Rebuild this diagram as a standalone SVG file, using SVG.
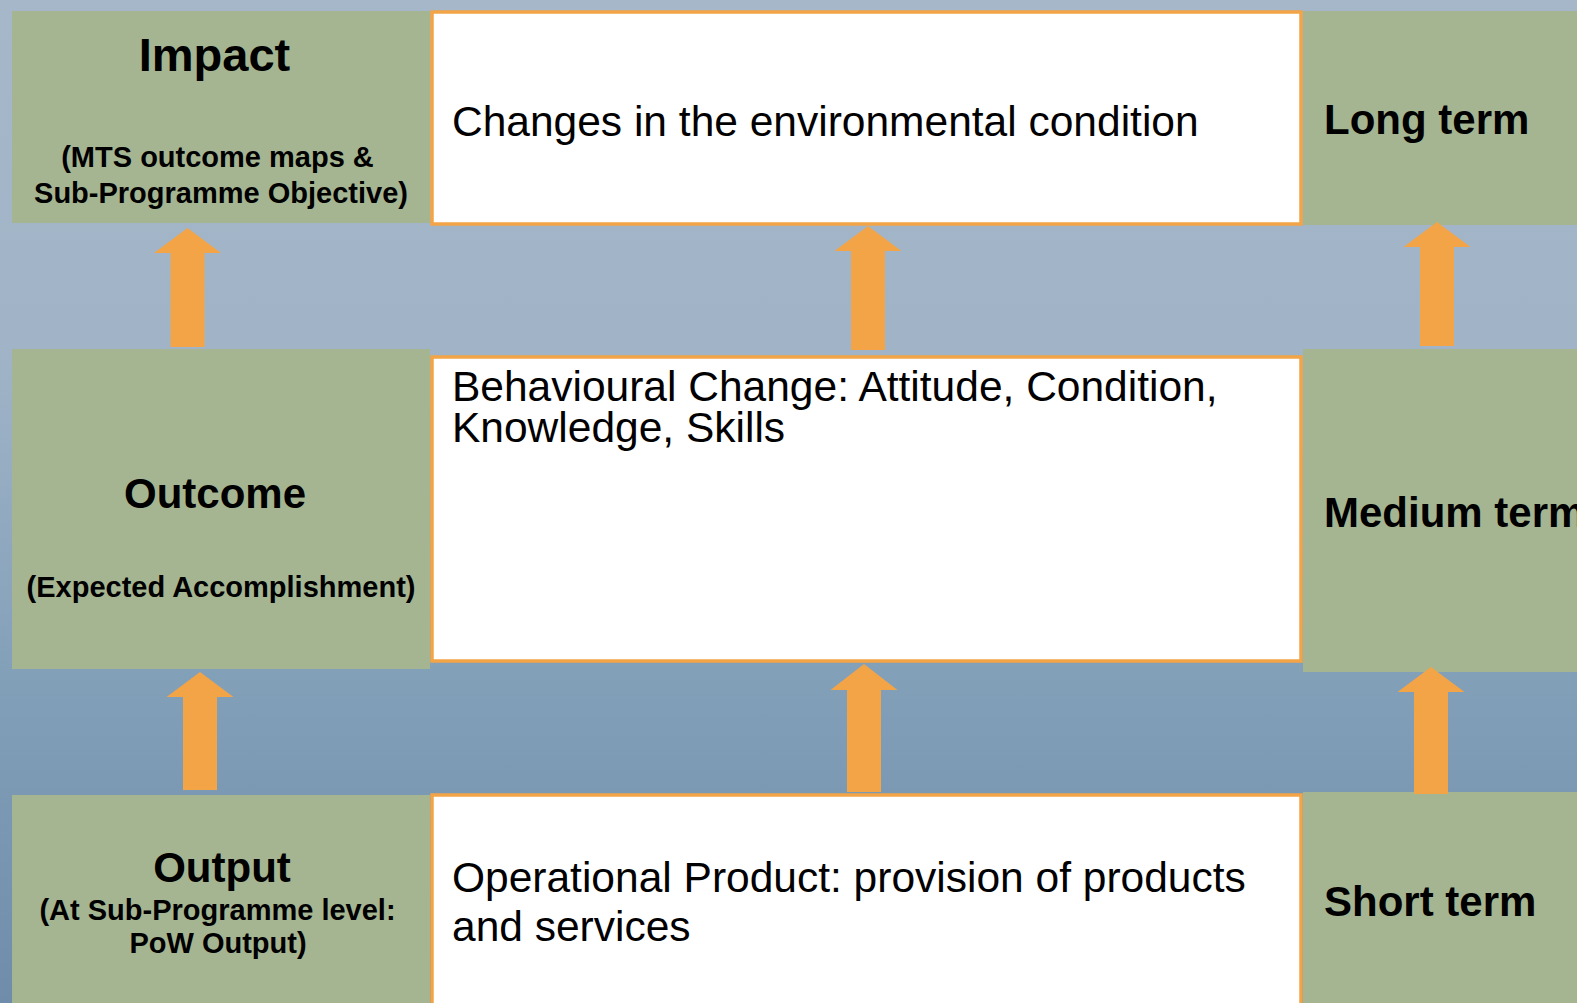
<svg xmlns="http://www.w3.org/2000/svg" width="1577" height="1003" viewBox="0 0 1577 1003">
  <defs>
    <linearGradient id="bg" x1="0" y1="0" x2="0" y2="1003" gradientUnits="userSpaceOnUse">
      <stop offset="0" stop-color="#a5b7c9"/>
      <stop offset="0.35" stop-color="#a1b4c7"/>
      <stop offset="0.67" stop-color="#83a0b9"/>
      <stop offset="1" stop-color="#6f8dab"/>
    </linearGradient>
    <style>
      .green { fill: #a5b592; }
      .white { fill: #ffffff; stroke: #f2a446; stroke-width: 3.5; }
      .arrow { fill: #f2a446; }
      .title { font-family: "Liberation Sans", Arial, sans-serif; font-weight: bold; fill: #000; text-anchor: middle; }
      .sub { font-family: "Liberation Sans", Arial, sans-serif; font-weight: bold; font-size: 29px; fill: #000; text-anchor: middle; }
      .term { font-family: "Liberation Sans", Arial, sans-serif; font-weight: bold; font-size: 42px; fill: #000; }
      .body { font-family: "Liberation Sans", Arial, sans-serif; font-size: 42.5px; fill: #000; }
    </style>
  </defs>
  <rect x="0" y="0" width="1577" height="1003" fill="url(#bg)"/>

  <g id="impact">
    <rect class="green" x="12" y="11" width="418" height="212"/>
    <text class="title" x="214.5" y="71" font-size="47">Impact</text>
    <text class="sub" x="217.5" y="167">(MTS outcome maps &amp;</text>
    <text class="sub" x="221" y="203">Sub-Programme Objective)</text>
  </g>
  <g id="impact-desc">
    <rect class="white" x="432" y="12" width="869" height="212"/>
    <text class="body" x="452" y="136">Changes in the environmental condition</text>
  </g>
  <g id="long-term">
    <rect class="green" x="1303" y="11" width="274" height="214"/>
    <text class="term" x="1324" y="134">Long term</text>
  </g>

  <g id="outcome">
    <rect class="green" x="12" y="349" width="418" height="320"/>
    <text class="title" x="215" y="508" font-size="42">Outcome</text>
    <text class="sub" x="221" y="597">(Expected Accomplishment)</text>
  </g>
  <g id="outcome-desc">
    <rect class="white" x="432" y="357" width="869" height="304"/>
    <text class="body" x="452" y="401">Behavioural Change: Attitude, Condition,</text>
    <text class="body" x="452" y="442">Knowledge, Skills</text>
  </g>
  <g id="medium-term">
    <rect class="green" x="1303" y="349" width="274" height="323"/>
    <text class="term" x="1324" y="527">Medium term</text>
  </g>

  <g id="output">
    <rect class="green" x="12" y="795" width="418" height="208"/>
    <text class="title" x="222" y="882" font-size="42">Output</text>
    <text class="sub" x="217.5" y="920">(At Sub-Programme level:</text>
    <text class="sub" x="218" y="953">PoW Output)</text>
  </g>
  <g id="output-desc">
    <rect class="white" x="432" y="795" width="869" height="220"/>
    <text class="body" x="452" y="892">Operational Product: provision of products</text>
    <text class="body" x="452" y="941">and services</text>
  </g>
  <g id="short-term">
    <rect class="green" x="1303" y="792" width="274" height="211"/>
    <text class="term" x="1324" y="916">Short term</text>
  </g>

  <g id="connectors">
    <path class="arrow" d="M187.5 228 L221 253 L204.5 253 L204.5 347 L170.5 347 L170.5 253 L154 253 Z"/>
    <path class="arrow" d="M868 226 L901.5 251 L885 251 L885 350 L851 350 L851 251 L834.5 251 Z"/>
    <path class="arrow" d="M1437 222 L1470.5 247 L1454 247 L1454 346 L1420 346 L1420 247 L1403.5 247 Z"/>
    <path class="arrow" d="M200 672 L233.5 697 L217 697 L217 790 L183 790 L183 697 L166.5 697 Z"/>
    <path class="arrow" d="M864 664 L897.5 690 L881 690 L881 792 L847 792 L847 690 L830.5 690 Z"/>
    <path class="arrow" d="M1431 667 L1464.5 692 L1448 692 L1448 794 L1414 794 L1414 692 L1397.5 692 Z"/>
  </g>
</svg>
